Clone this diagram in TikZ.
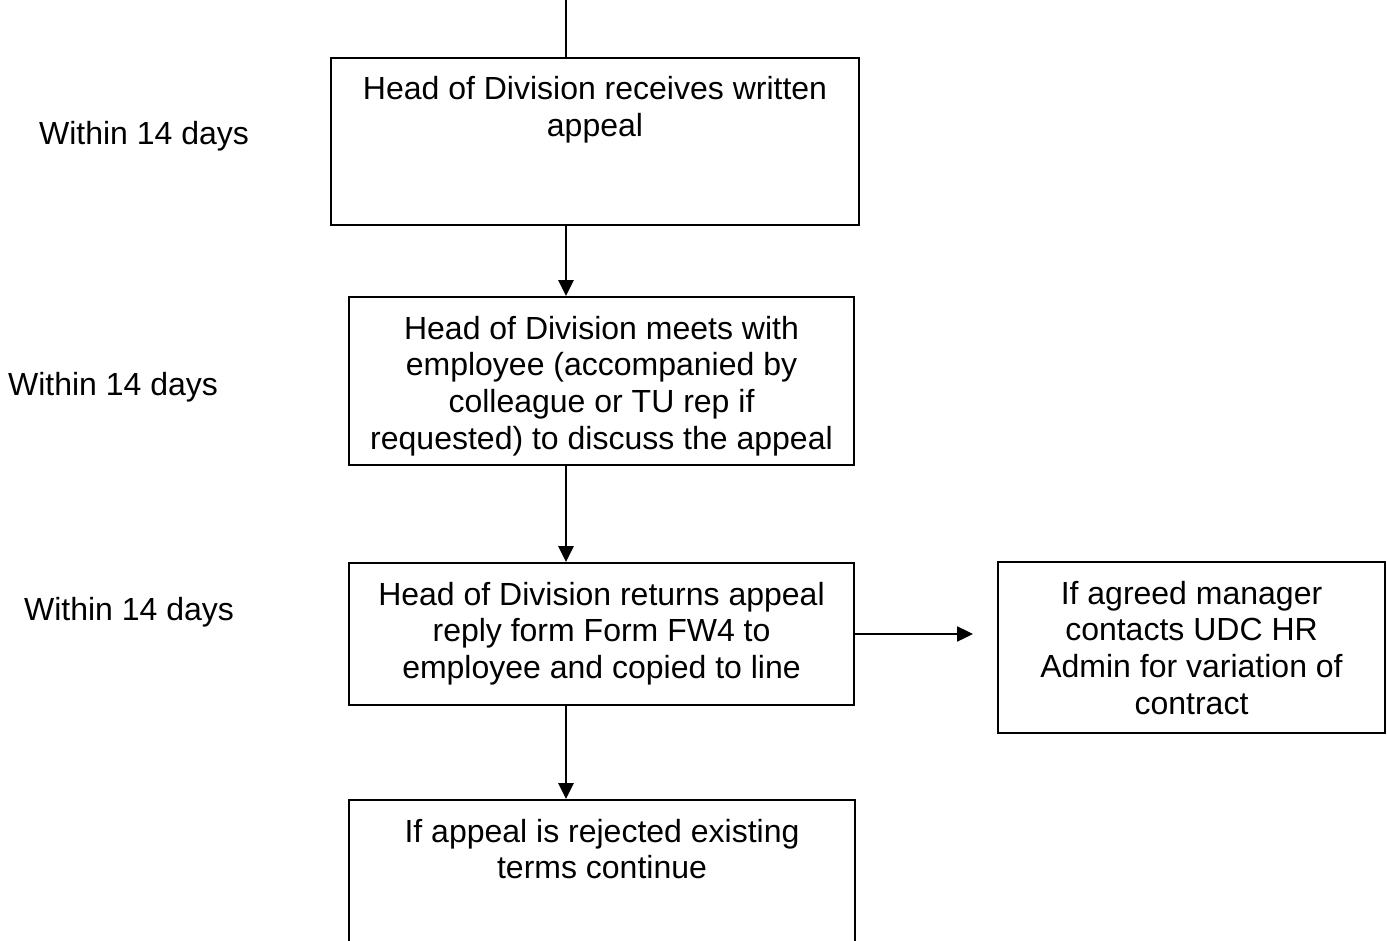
\documentclass[tikz,border=0pt]{standalone}
\usepackage{fontspec}
\setmainfont{Liberation Sans}
\usetikzlibrary{arrows.meta}
\newcommand\boxtext[3]{\begin{minipage}[c][#2pt][t]{#1pt}\centering\fontsize{32}{36.8}\selectfont\rule{0pt}{42pt}#3\end{minipage}}
\begin{document}
\begin{tikzpicture}[x=1pt,y=-1pt,
 box/.style={draw, line width=1.8pt, inner sep=0pt, fill=white},
 conn/.style={line width=2.4pt},
 arr/.style={conn, -{Triangle[length=16pt,width=15pt]}},
 side/.style={anchor=base, inner sep=0pt, font=\fontsize{32}{36.8}\selectfont}]
\clip (0,0) rectangle (1387,941);
\fill[white] (0,0) rectangle (1387,941);
\node[box] (b1) at (595,141.5) {\boxtext{528}{167}{Head of Division receives written\\appeal}};
\node[box] (b2) at (601.5,381) {\boxtext{505}{168}{Head of Division meets with\\employee (accompanied by\\colleague or TU rep if\\requested) to discuss the appeal}};
\node[box] (b3) at (601.5,634) {\boxtext{505}{142}{Head of Division returns appeal\\reply form Form FW4 to\\employee and copied to line}};
\node[box] (b4) at (1191.5,647.5) {\boxtext{387}{171}{If agreed manager\\contacts UDC HR\\Admin for variation of\\contract}};
\node[box] (b5) at (602,885) {\boxtext{506}{170}{If appeal is rejected existing\\terms continue}};
\node[side] (l1) at (144,145) {Within 14 days};
\node[side] (l2) at (113,395) {Within 14 days};
\node[side] (l3) at (129,620) {Within 14 days};
\coordinate (ax) at (566,0);
\draw[conn] (ax) -- (b1.north -| ax);
\draw[arr] (b1.south -| ax) -- (b2.north -| ax);
\draw[arr] (b2.south -| ax) -- (b3.north -| ax);
\draw[arr] (b3.south -| ax) -- (b5.north -| ax);
\coordinate (e4) at (973,634);
\draw[arr] (b3.east) -- (e4);
\end{tikzpicture}
\end{document}
